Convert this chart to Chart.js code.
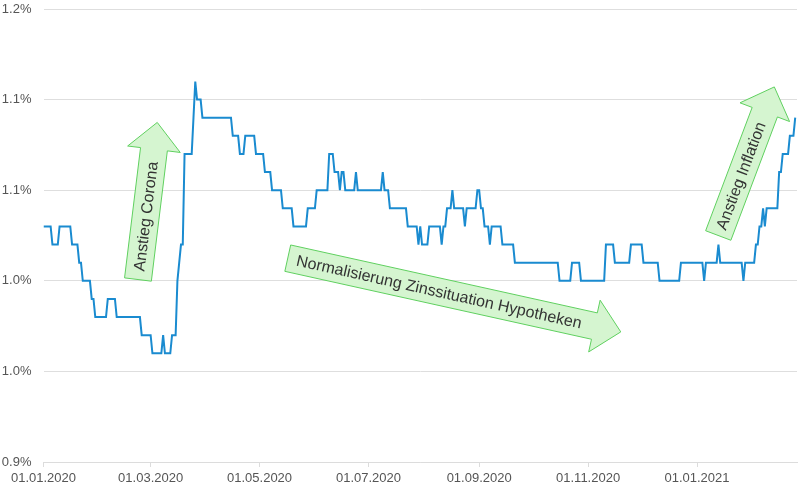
<!DOCTYPE html>
<html>
<head>
<meta charset="utf-8">
<script src="https://cdn.jsdelivr.net/npm/chart.js@4.4.1/dist/chart.umd.min.js"></script>
<style>
  html, body { margin: 0; padding: 0; background: #fff; }
  canvas { display: block; }
</style>
</head>
<body>
<canvas id="rateChart" width="800" height="488"></canvas>
<script>
// Tage seit 01.01.2020, an denen sich der Zins ändert, und der neue Zins (%)
const changeDays = [0, 5, 9, 16, 20, 22, 27, 29, 36, 41, 55, 61, 67, 68, 72, 75, 76, 77, 79, 84, 85, 86, 89,
  106, 110, 113, 119, 124, 128, 134, 140, 148, 153, 160, 163, 166, 167, 169, 175, 176, 190, 191, 194,
  204, 210, 211, 212, 216, 223, 224, 226, 229, 230, 236, 237, 243, 245, 247, 250, 251, 257, 264,
  289, 296, 301, 315, 320, 329, 336, 345, 357, 370, 371, 378, 379, 392, 393, 399, 401, 403, 404, 405,
  412, 414, 418, 421];
const rates = [1.08, 1.07, 1.08, 1.07, 1.06, 1.05, 1.04, 1.03, 1.04, 1.03, 1.02, 1.01, 1.02, 1.01, 1.02, 1.05, 1.06, 1.07, 1.12, 1.14, 1.16, 1.15, 1.14,
  1.13, 1.12, 1.13, 1.12, 1.11, 1.10, 1.09, 1.08, 1.09, 1.10, 1.12, 1.11, 1.10, 1.11, 1.10, 1.11, 1.10, 1.11, 1.10, 1.09,
  1.08, 1.07, 1.08, 1.07, 1.08, 1.07, 1.08, 1.09, 1.10, 1.09, 1.08, 1.09, 1.10, 1.09, 1.08, 1.07, 1.08, 1.07, 1.06,
  1.05, 1.06, 1.05, 1.07, 1.06, 1.07, 1.06, 1.05, 1.06, 1.05, 1.06, 1.07, 1.06, 1.05, 1.06, 1.07, 1.08, 1.09, 1.08, 1.09,
  1.11, 1.12, 1.13, 1.14];
const lastDay = 421;

const tickLabels = ['01.01.2020', '01.03.2020', '01.05.2020', '01.07.2020', '01.09.2020', '01.11.2020', '01.01.2021'];
const yTicks = [0.95, 1.00, 1.05, 1.10, 1.15, 1.20];

// Pfeile: von (Tag, Zins) nach (Tag, Zins)
const notes = [
  { text: 'Anstieg Corona', from: [52.9, 1.0507], to: [63.7, 1.1374] },
  { text: 'Normalisierung Zinssituation Hypotheken', from: [136.8, 1.0625], to: [323.3, 1.0218] },
  { text: 'Anstieg Inflation', from: [377.9, 1.075], to: [409.3, 1.157] }
];

function dayOf(label) {
  const [d, m, y] = label.split('.').map(Number);
  return (Date.UTC(y, m - 1, d) - Date.UTC(2020, 0, 1)) / 86400000;
}
const tickDays = tickLabels.map(dayOf);

function buildPoints() {
  const pts = [];
  for (let i = 0; i < changeDays.length; i++) {
    const start = changeDays[i];
    const end = i + 1 < changeDays.length ? changeDays[i + 1] - 1 : lastDay;
    pts.push({ x: start, y: rates[i] });
    if (end > start) pts.push({ x: end, y: rates[i] });
  }
  return pts;
}

const arrowPlugin = {
  id: 'arrows',
  afterDatasetsDraw(chart) {
    const ctx = chart.ctx;
    const xs = chart.scales.x, ys = chart.scales.y;
    notes.forEach(n => {
      const tx = xs.getPixelForValue(n.from[0]), ty = ys.getPixelForValue(n.from[1]);
      const px = xs.getPixelForValue(n.to[0]), py = ys.getPixelForValue(n.to[1]);
      const len = Math.hypot(px - tx, py - ty);
      const ux = (px - tx) / len, uy = (py - ty) / len;
      const nx = -uy, ny = ux;
      const w = 13.5, hw = 26.5, hl = 27;
      const bx = px - ux * hl, by = py - uy * hl;
      ctx.save();
      ctx.beginPath();
      ctx.moveTo(tx + nx * w, ty + ny * w);
      ctx.lineTo(bx + nx * w, by + ny * w);
      ctx.lineTo(bx + nx * hw, by + ny * hw);
      ctx.lineTo(px, py);
      ctx.lineTo(bx - nx * hw, by - ny * hw);
      ctx.lineTo(bx - nx * w, by - ny * w);
      ctx.lineTo(tx - nx * w, ty - ny * w);
      ctx.closePath();
      ctx.fillStyle = '#d5f5d0';
      ctx.fill();
      ctx.lineWidth = 1;
      ctx.strokeStyle = '#5fd05f';
      ctx.stroke();
      // Text mittig im Schaft
      const mid = (len - hl) / 2 - 2;
      ctx.translate(tx + ux * mid, ty + uy * mid);
      ctx.rotate(Math.atan2(uy, ux));
      ctx.fillStyle = '#333';
      ctx.font = '16px "Liberation Sans", Arial, sans-serif';
      ctx.textAlign = 'center';
      ctx.textBaseline = 'middle';
      ctx.fillText(n.text, 0, 1);
      ctx.restore();
    });
  }
};

new Chart(document.getElementById('rateChart').getContext('2d'), {
  type: 'line',
  data: {
    datasets: [{
      data: buildPoints(),
      borderColor: '#1a8bd0',
      borderWidth: 2,
      pointRadius: 0,
      tension: 0,
      fill: false
    }]
  },
  options: {
    responsive: false,
    animation: false,
    devicePixelRatio: 1,
    layout: { padding: { top: 9, right: 3, bottom: 0, left: 0 } },
    plugins: { legend: { display: false }, tooltip: { enabled: false } },
    scales: {
      x: {
        type: 'linear',
        min: 0,
        max: 422,
        afterBuildTicks: s => { s.ticks = tickDays.map(v => ({ value: v })); },
        afterFit: s => { s.height = 26; s.paddingTop = 0; },
        ticks: {
          autoSkip: false,
          maxRotation: 0,
          padding: 4,
          color: '#555',
          font: { family: '"Liberation Sans", Arial, sans-serif', size: 13 },
          callback: v => tickLabels[tickDays.indexOf(v)]
        },
        grid: { drawOnChartArea: false, drawTicks: true, tickLength: 5, color: '#dcdcdc' },
        border: { display: true, color: '#dcdcdc' }
      },
      y: {
        min: 0.95,
        max: 1.20,
        afterBuildTicks: s => { s.ticks = yTicks.map(v => ({ value: v })); },
        afterFit: s => { s.width = 43.5; s.paddingTop = 0; s.paddingBottom = 0; },
        ticks: {
          padding: 12,
          color: '#555',
          font: { family: '"Liberation Sans", Arial, sans-serif', size: 13 },
          callback: v => (Math.floor(v * 10 + 1e-6) / 10).toFixed(1) + '%'
        },
        grid: { drawTicks: false, color: '#dedede' },
        border: { display: false }
      }
    }
  },
  plugins: [arrowPlugin]
});
</script>
</body>
</html>
